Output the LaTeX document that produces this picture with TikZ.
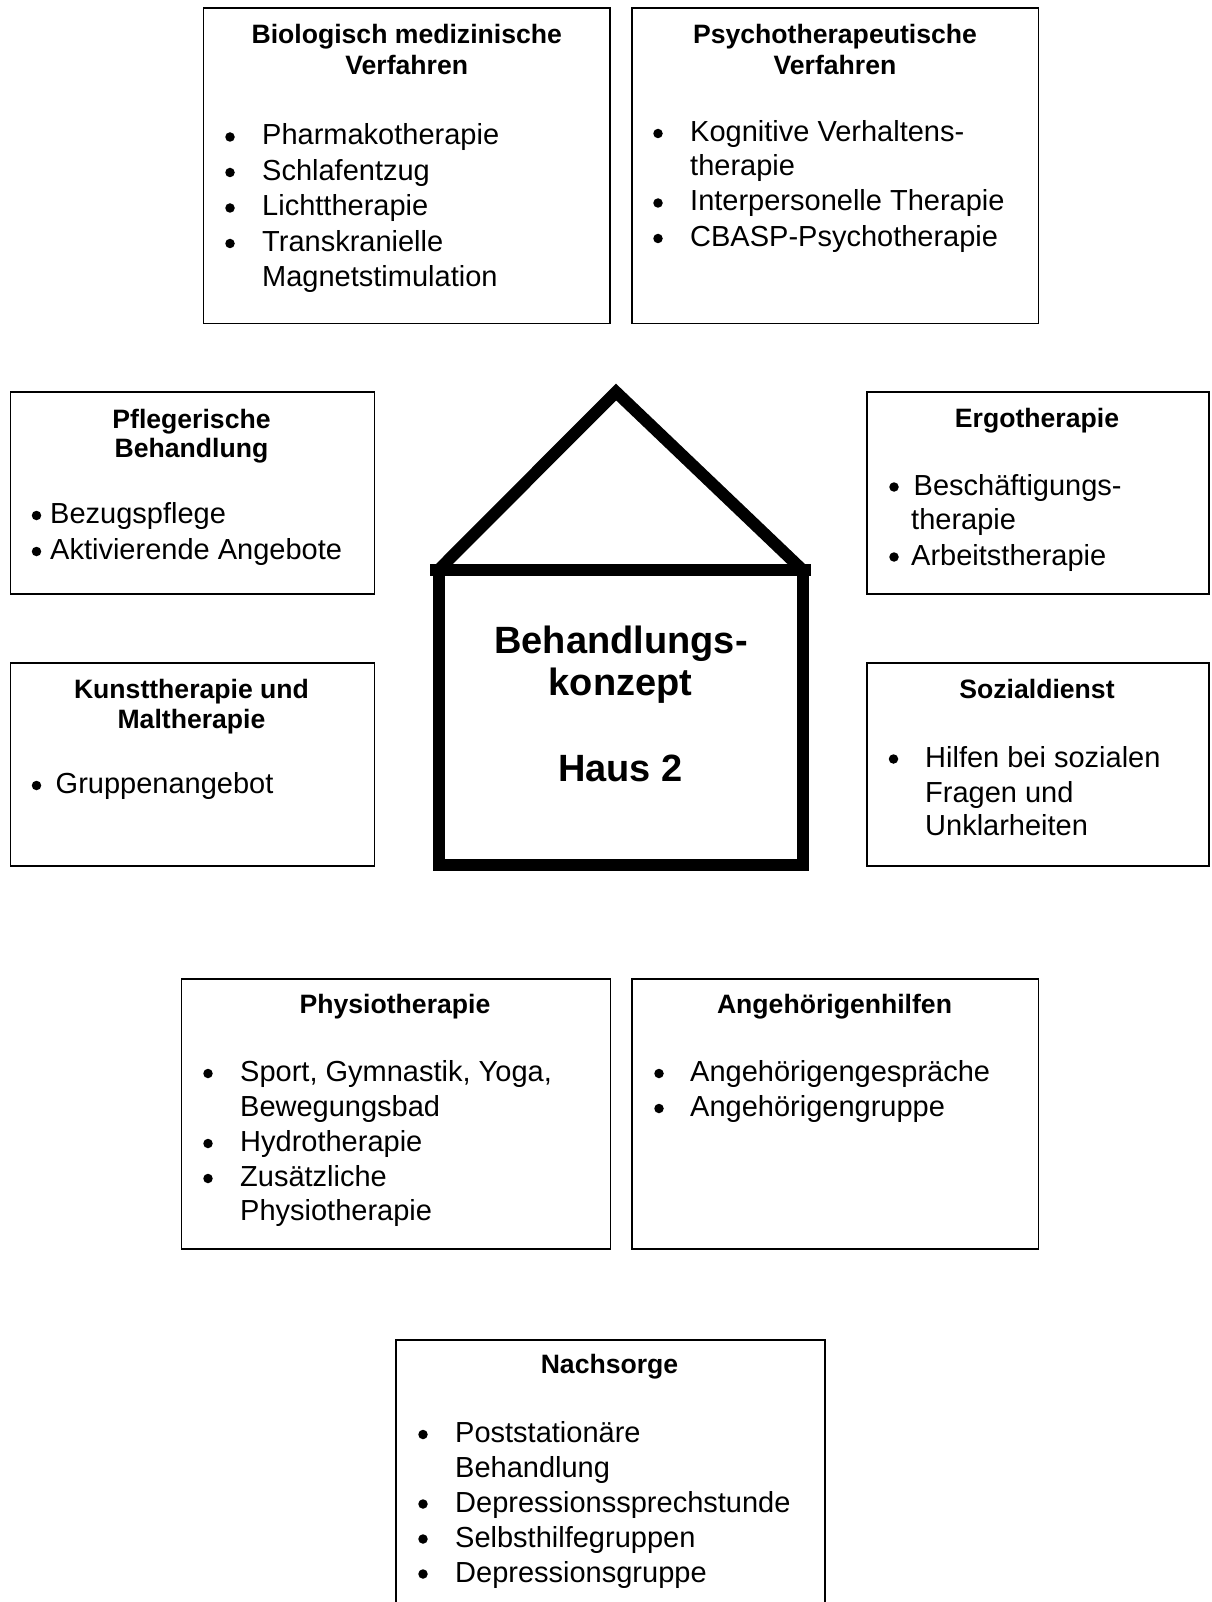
\documentclass[tikz,border=0pt]{standalone}
\usepackage{fontspec}
\setmainfont{Liberation Sans}
\begin{document}
\begin{tikzpicture}[x=1pt,y=-1pt,
  box/.style={draw,line width=1.8pt,inner sep=0pt,minimum width=#1},
  head/.style={inner sep=0pt,anchor=base,font=\bfseries\fontsize{26.6}{31}\selectfont},
  body/.style={inner sep=0pt,anchor=base west,font=\fontsize{29}{35}\selectfont},
  bul/.style={circle,fill,inner sep=0pt,minimum size=9.5pt},
  big/.style={inner sep=0pt,anchor=base,font=\bfseries\fontsize{38}{42}\selectfont},
  house/.style={line width=12pt,line join=miter}]
\clip (0,0) rectangle (1211,1602);
\fill[white] (0,0) rectangle (1211,1602);
% boxes
\node[box=406.5pt,minimum height=315.5pt] (b1) at (406.75,165.75) {};
\node[box=406.5pt,minimum height=315.5pt] (b2) at (835.25,165.75) {};
\node[box=364pt,minimum height=202pt] (pfl) at (192.5,493) {};
\node[box=342pt,minimum height=202pt] (ergo) at (1038,493) {};
\node[box=364pt,minimum height=203pt] (kunst) at (192.5,764.5) {};
\node[box=342pt,minimum height=203pt] (sozial) at (1038,764.5) {};
\node[box=429pt,minimum height=270pt] (physio) at (396,1114) {};
\node[box=406.5pt,minimum height=270pt] (angeh) at (835.25,1114) {};
\node[box=429pt,minimum height=300pt] (nach) at (610.5,1490) {};
% house
\coordinate (hl) at (438.5,570);
\coordinate (hr) at (802.5,570);
\coordinate (ha) at (616,392);
\coordinate (hbl) at (438.5,865);
\coordinate (hbr) at (802.5,865);
\coordinate (el) at (430,570);
\coordinate (er) at (811,570);
\draw[house] (hl) -- (ha) -- (hr);
\draw[house] (el) -- (er);
\draw[house] (hl) -- (hbl) -- (hbr) -- (hr) -- cycle;
\node[big] (hx1) at (621,653.5) {Behandlungs-};
\node[big] (hx2) at (620.5,695) {konzept};
\node[big] (hx3) at (620.5,781.5) {Haus 2};
% box 1
\node[head] (b1h1) at (406.75,44) {Biologisch medizinische};
\node[head] (b1h2) at (406.75,75) {Verfahren};
\node[bul] (b1d1) at (230,137) {};
\node[body] (b1t1) at (262,145) {Pharmakotherapie};
\node[bul] (b1d2) at (230,172.5) {};
\node[body] (b1t2) at (262,180.5) {Schlafentzug};
\node[bul] (b1d3) at (230,208) {};
\node[body] (b1t3) at (262,216) {Lichttherapie};
\node[bul] (b1d4) at (230,243.5) {};
\node[body] (b1t4) at (262,251.5) {Transkranielle};
\node[body] (b1t5) at (262,287) {Magnetstimulation};
% box 2
\node[head] (b2h1) at (835,44) {Psychotherapeutische};
\node[head] (b2h2) at (835,75) {Verfahren};
\node[bul] (b2d1) at (658,133.5) {};
\node[body] (b2t1) at (690,141.5) {Kognitive Verhaltens-};
\node[body] (b2t2) at (690,176) {therapie};
\node[bul] (b2d3) at (658,203) {};
\node[body] (b2t3) at (690,211) {Interpersonelle Therapie};
\node[bul] (b2d4) at (658,238.5) {};
\node[body] (b2t4) at (690,246.5) {CBASP-Psychotherapie};
% Pflegerische
\node[head] (pfh1) at (191.5,428.5) {Pflegerische};
\node[head] (pfh2) at (191.5,457.5) {Behandlung};
\node[bul] (pfd1) at (36.5,515.5) {};
\node[body] (pft1) at (50,523.5) {Bezugspflege};
\node[bul] (pfd2) at (36.5,551.5) {};
\node[body] (pft2) at (50,559.5) {Aktivierende Angebote};
% Ergotherapie
\node[head] (erh1) at (1037,427.5) {Ergotherapie};
\node[bul] (erd1) at (894,487) {};
\node[body] (ert1) at (913.5,495) {Beschäftigungs-};
\node[body] (ert2) at (911,529.5) {therapie};
\node[bul] (erd3) at (894,557) {};
\node[body] (ert3) at (911,565) {Arbeitstherapie};
% Kunsttherapie
\node[head] (kuh1) at (191.5,698.5) {Kunsttherapie und};
\node[head] (kuh2) at (191.5,728.5) {Maltherapie};
\node[bul] (kud1) at (36.5,785.5) {};
\node[body] (kut1) at (55.5,793.5) {Gruppenangebot};
% Sozialdienst
\node[head] (soh1) at (1037,698.5) {Sozialdienst};
\node[bul] (sod1) at (893.5,759) {};
\node[body] (sot1) at (925,767) {Hilfen bei sozialen};
\node[body] (sot2) at (925,802) {Fragen und};
\node[body] (sot3) at (925,835.5) {Unklarheiten};
% Physiotherapie
\node[head] (phh1) at (395,1013.5) {Physiotherapie};
\node[bul] (phd1) at (208,1073.5) {};
\node[body] (pht1) at (240,1081.5) {Sport, Gymnastik, Yoga,};
\node[body] (pht2) at (240,1116.5) {Bewegungsbad};
\node[bul] (phd3) at (208,1143.5) {};
\node[body] (pht3) at (240,1151.5) {Hydrotherapie};
\node[bul] (phd4) at (208,1178.5) {};
\node[body] (pht4) at (240,1186.5) {Zusätzliche};
\node[body] (pht5) at (240,1220.5) {Physiotherapie};
% Angehoerigenhilfen
\node[head] (anh1) at (834.5,1013.5) {Angehörigenhilfen};
\node[bul] (and1) at (659,1073.5) {};
\node[body] (ant1) at (690,1081.5) {Angehörigengespräche};
\node[bul] (and2) at (659,1108.5) {};
\node[body] (ant2) at (690,1116.5) {Angehörigengruppe};
% Nachsorge
\node[head] (nah1) at (609.5,1373.5) {Nachsorge};
\node[bul] (nad1) at (423,1434.5) {};
\node[body] (nat1) at (455,1442.5) {Poststationäre};
\node[body] (nat2) at (455,1477) {Behandlung};
\node[bul] (nad3) at (423,1504) {};
\node[body] (nat3) at (455,1512) {Depressionssprechstunde};
\node[bul] (nad4) at (423,1539) {};
\node[body] (nat4) at (455,1547) {Selbsthilfegruppen};
\node[bul] (nad5) at (423,1574) {};
\node[body] (nat5) at (455,1582) {Depressionsgruppe};
\end{tikzpicture}
\end{document}
